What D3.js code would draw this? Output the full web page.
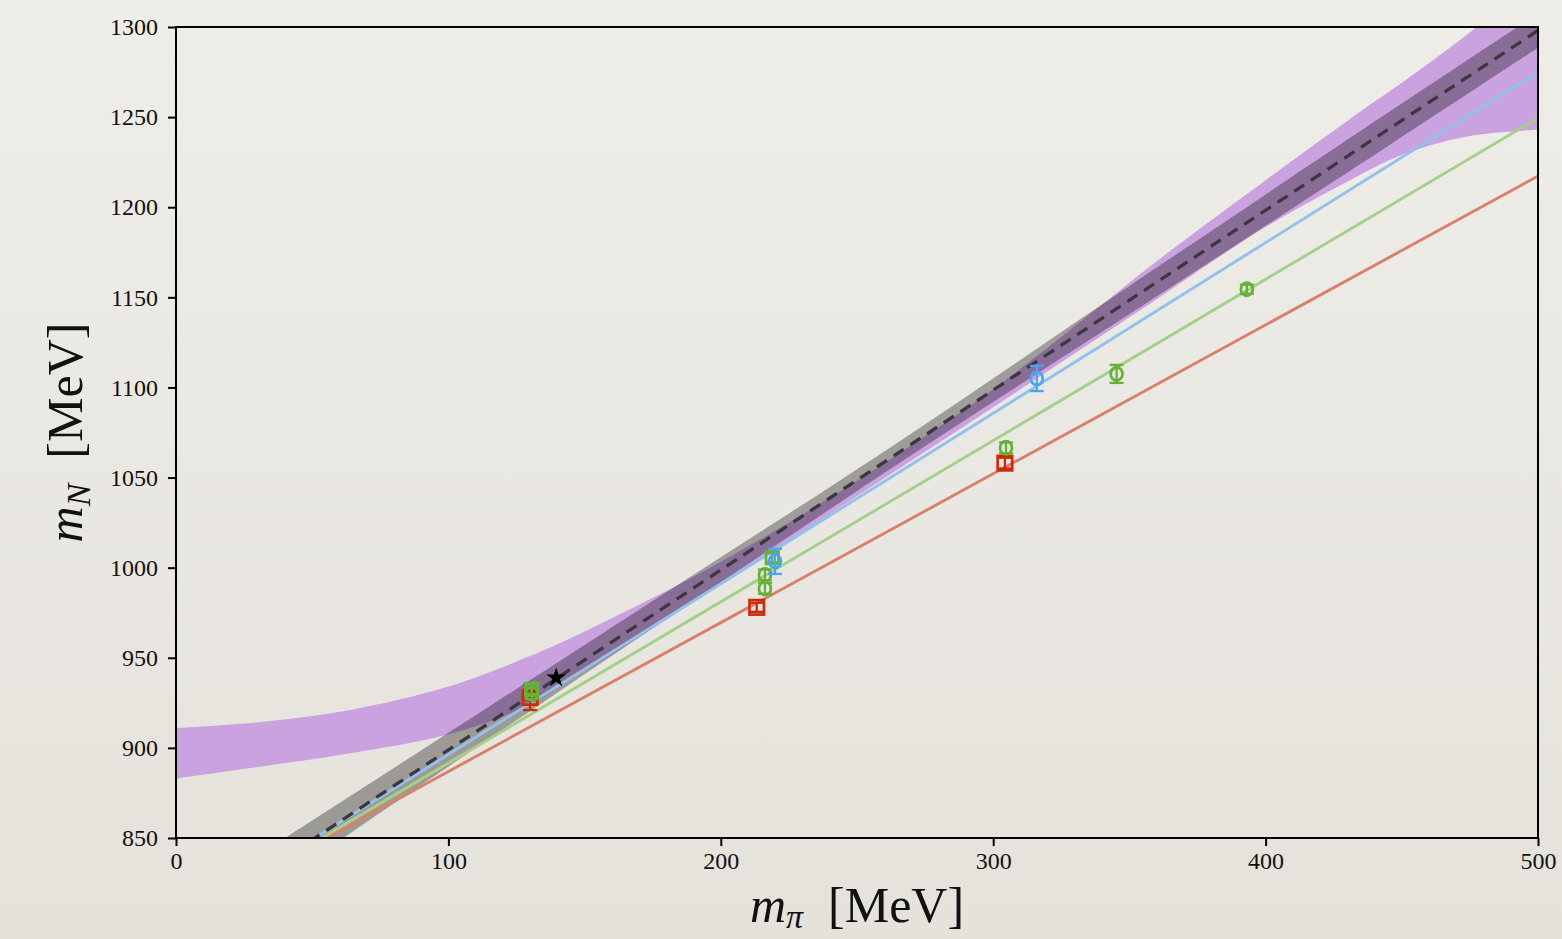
<!DOCTYPE html>
<html>
<head>
<meta charset="utf-8">
<script src="https://cdn.jsdelivr.net/npm/d3@7"></script>
<style>
  html, body { margin: 0; padding: 0; background: #ebe8e2; overflow: hidden; }
  svg { display: block; }
  text { font-family: "Liberation Serif", "DejaVu Serif", serif; fill: #111; }
</style>
</head>
<body>
<svg id="chart" width="1562" height="939"></svg>
<script>
// ---------------- data ----------------
const xTicks = [0, 100, 200, 300, 400, 500];
const yTicks = [850, 900, 950, 1000, 1050, 1100, 1150, 1200, 1250, 1300];

// purple chiral-fit band
const purpleMpi   = [0, 32, 64, 100, 130, 145, 160, 190, 230, 265, 300, 340, 360, 400, 431, 450, 475, 500];
const purpleUpper = [911, 914.5, 921, 934, 951, 961, 972, 995, 1029.5, 1063, 1099, 1146, 1170, 1215, 1249, 1269, 1297, 1327];
const purpleLower = [883, 889.8, 897, 907.5, 924, 938.5, 952, 981, 1020, 1054.5, 1089, 1129, 1149, 1189, 1215, 1229, 1239.5, 1243];

// grey linear-fit band
const greyMpi   = [0, 40, 75, 155, 265, 357, 445, 500];
const greyLower = [787, 828, 864, 946, 1057.5, 1147.5, 1234, 1288.5];
const greyUpper = [811, 850, 884, 962, 1069.5, 1163.5, 1252.5, 1307.5];

// straight fit lines (values at m_pi = 0 and 500)
const lineMpi    = [0, 500];
const dashedLine = [799.1, 1298.1];
const blueLine   = [801.7, 1275.0];
const greenLine  = [802.1, 1249.5];
const redLine    = [804.3, 1217.3];

// lattice points: [m_pi, m_N, error]
const redSquares   = [[130.0, 928.0, 7], [213.2, 978.0, 2.5], [304.3, 1058.0, 3]];
const redCircles   = [[130.3, 929.5, 3]];
const greenSquares = [[130.6, 932.5, 2.5], [218.9, 1005.5, 2.5]];
const greenCircles = [[130.6, 930.0, 3], [216.2, 996.0, 3], [216.2, 988.5, 3], [304.7, 1066.5, 3], [345.3, 1107.5, 5], [393.1, 1154.5, 2.5]];
const blueCircles  = [[219.9, 1003.5, 7], [316.0, 1105.0, 7]];
const physPoint    = [[139.57, 938.9]];

// ---------------- layout ----------------
const W = 1562, H = 939;
const L = 176, R = 1538, T = 27, B = 838;
const svg = d3.select("#chart");

const x = d3.scaleLinear().domain([0, 500]).range([L, R]);
const y = d3.scaleLinear().domain([850, 1300]).range([B, T]);

const defs = svg.append("defs");
const grad = defs.append("linearGradient").attr("id", "bg").attr("x1", 0).attr("y1", 0).attr("x2", 0).attr("y2", 1);
grad.append("stop").attr("offset", "0%").attr("stop-color", "#efede8");
grad.append("stop").attr("offset", "100%").attr("stop-color", "#e5e2dc");
svg.append("rect").attr("width", W).attr("height", H).attr("fill", "url(#bg)");

defs.append("clipPath").attr("id", "plotclip")
  .append("rect").attr("x", L).attr("y", T).attr("width", R - L).attr("height", B - T);

const plot = svg.append("g").attr("clip-path", "url(#plotclip)");
const smooth = d3.curveCatmullRom.alpha(0.5);

// purple band
const purpleData = purpleMpi.map((m, i) => ({ m, lo: purpleLower[i], hi: purpleUpper[i] }));
plot.append("path")
  .datum(purpleData)
  .attr("fill", "#c9a2df")
  .attr("d", d3.area().curve(smooth)
    .x(d => x(d.m)).y0(d => y(d.lo)).y1(d => y(d.hi)));

// grey band
const greyData = greyMpi.map((m, i) => ({ m, lo: greyLower[i], hi: greyUpper[i] }));
plot.append("path")
  .datum(greyData)
  .attr("fill", "#000")
  .attr("fill-opacity", 0.32)
  .attr("d", d3.area().curve(smooth)
    .x(d => x(d.m)).y0(d => y(d.lo)).y1(d => y(d.hi)));

// fit lines
const lineGen = d3.line().x(d => x(d[0])).y(d => y(d[1]));
const fitLines = [
  { vals: redLine,   color: "#d9806a" },
  { vals: greenLine, color: "#a6cf88" },
  { vals: blueLine,  color: "#92c1ec" }
];
fitLines.forEach(f => {
  plot.append("path")
    .datum(lineMpi.map((m, i) => [m, f.vals[i]]))
    .attr("fill", "none")
    .attr("stroke", f.color)
    .attr("stroke-width", 2.9)
    .attr("d", lineGen);
});

// dashed central line
plot.append("path")
  .datum(lineMpi.map((m, i) => [m, dashedLine[i]]))
  .attr("fill", "none")
  .attr("stroke", "#3d3540")
  .attr("stroke-width", 3.3)
  .attr("stroke-dasharray", "12,8")
  .attr("d", lineGen);

// ---------------- points with error bars ----------------
const capHalf = 7;
function errorBars(data, color) {
  const g = svg.append("g").attr("stroke", color).attr("stroke-width", 2.3).attr("fill", "none");
  data.forEach(d => {
    const cx = x(d[0]), y1 = y(d[1] - d[2]), y2 = y(d[1] + d[2]);
    g.append("line").attr("x1", cx).attr("x2", cx).attr("y1", y1).attr("y2", y2);
    g.append("line").attr("x1", cx - capHalf).attr("x2", cx + capHalf).attr("y1", y1).attr("y2", y1);
    g.append("line").attr("x1", cx - capHalf).attr("x2", cx + capHalf).attr("y1", y2).attr("y2", y2);
  });
}
function squares(data, color, side) {
  errorBars(data, color);
  svg.append("g").selectAll("rect").data(data).join("rect")
    .attr("x", d => x(d[0]) - side / 2).attr("y", d => y(d[1]) - side / 2)
    .attr("width", side).attr("height", side)
    .attr("fill", "none").attr("stroke", color).attr("stroke-width", 2.7);
}
function circles(data, color, r) {
  errorBars(data, color);
  svg.append("g").selectAll("ellipse").data(data).join("ellipse")
    .attr("cx", d => x(d[0])).attr("cy", d => y(d[1]))
    .attr("rx", r * 0.9).attr("ry", r)
    .attr("fill", "none").attr("stroke", color).attr("stroke-width", 2.7);
}

squares(redSquares, "#cc2a0a", 14.5);
circles(redCircles, "#cc2a0a", 5.5);
squares(greenSquares, "#66b236", 12.5);
circles(greenCircles, "#66b236", 6.6);
circles(blueCircles, "#4aa3f5", 6.6);

// physical point star
svg.append("g").selectAll("path").data(physPoint).join("path")
  .attr("transform", d => `translate(${x(d[0])},${y(d[1])})`)
  .attr("d", d3.symbol().type(d3.symbolStar).size(120))
  .attr("fill", "#000");

// ---------------- axes ----------------
const xAxis = svg.append("g").attr("transform", `translate(0,${B})`)
  .call(d3.axisBottom(x).tickValues(xTicks).tickSize(8).tickPadding(6).tickFormat(d3.format("d")));
const yAxis = svg.append("g").attr("transform", `translate(${L},0)`)
  .call(d3.axisLeft(y).tickValues(yTicks).tickSize(8).tickPadding(10).tickFormat(d3.format("d")));
[xAxis, yAxis].forEach(a => {
  a.select(".domain").remove();
  a.selectAll(".tick line").attr("stroke", "#000").attr("stroke-width", 2);
  a.selectAll(".tick text").attr("fill", "#111")
    .style("font-family", '"Liberation Serif", "DejaVu Serif", serif')
    .style("font-size", "24px");
});

// frame
svg.append("rect").attr("x", L).attr("y", T).attr("width", R - L).attr("height", B - T)
  .attr("fill", "none").attr("stroke", "#000").attr("stroke-width", 2);

// axis labels
const xl = svg.append("text").attr("x", (L + R) / 2).attr("y", 922)
  .attr("text-anchor", "middle").style("font-size", "50px");
xl.append("tspan").style("font-style", "italic").text("m");
xl.append("tspan").style("font-style", "italic").style("font-size", "34px").attr("dy", 6).text("π");
xl.append("tspan").attr("dy", -6).text("\u2002[MeV]");

const yl = svg.append("text").attr("transform", `translate(82,${(T + B) / 2}) rotate(-90)`)
  .attr("text-anchor", "middle").style("font-size", "50px");
yl.append("tspan").style("font-style", "italic").text("m");
yl.append("tspan").style("font-style", "italic").style("font-size", "34px").attr("dy", 8).text("N");
yl.append("tspan").attr("dy", -8).text("\u2002[MeV]");
</script>
</body>
</html>
